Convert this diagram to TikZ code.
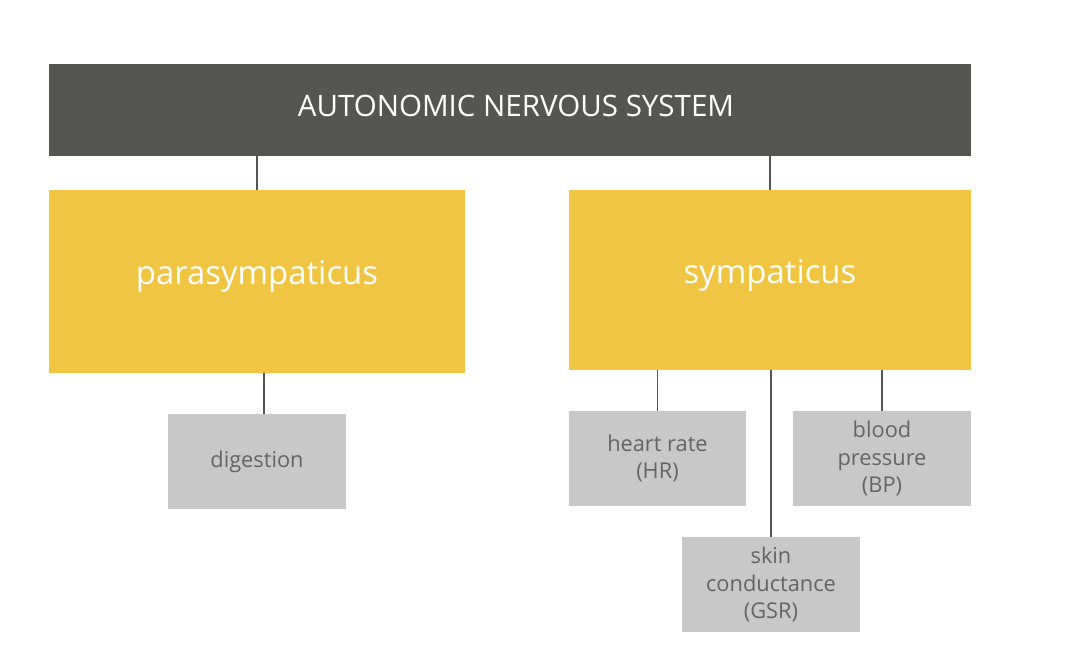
\documentclass[tikz,border=0pt]{standalone}
\usepackage{fontspec}
\setmainfont{Open Sans}
\usepackage{xcolor}
\usepackage{tikz}

\begin{document}
\begin{tikzpicture}[x={(0.02cm,0cm)},y={(0cm,-0.02cm)},every node/.style={outer sep=0pt, inner sep=0pt, align=center},
  head/.style={fill={rgb,255:red,85;green,85;blue,83}, minimum width=18.44cm, minimum height=1.84cm},
  headtext/.style={text=white, font=\fontsize{16.8}{20}\selectfont, xshift=0.12cm, yshift=0.09cm},
  branch/.style={fill={rgb,255:red,240;green,197;blue,66}},
  branchtext/.style={text=white, font=\fontsize{18.7}{22}\selectfont, yshift=0.1cm},
  leaf/.style={fill={rgb,255:red,200;green,200;blue,200}, text={rgb,255:red,100;green,100;blue,100}, minimum width=3.56cm, minimum height=1.9cm, font=\fontsize{12.4}{15.5}\selectfont},
  link/.style={draw={rgb,255:red,85;green,85;blue,83}, line width=1.1pt}]
\useasboundingbox (0,0) rectangle (1069,672);
\node[head, label={[headtext]center:AUTONOMIC NERVOUS SYSTEM}] (ans) at (510,110) {};
\node[branch, minimum width=8.32cm, minimum height=3.66cm, label={[branchtext]center:parasympaticus}] (para) at (257,281.5) {};
\node[branch, minimum width=8.04cm, minimum height=3.6cm, label={[branchtext]center:sympaticus}] (sym) at (770,280) {};
\node[leaf] (dig) at (257,461.5) {digestion};
\node[leaf] (hr) at (657.5,458.5) {heart rate\\(HR)};
\node[leaf] (bp) at (882,458.5) {blood\\pressure\\(BP)};
\node[leaf] (gsr) at (771,584.5) {skin\\conductance\\(GSR)};
\draw[link] (para.north) -- (para.north |- ans.south);
\draw[link] (sym.north) -- (sym.north |- ans.south);
\draw[link] ([xshift=0.14cm]dig.north) -- ([xshift=0.14cm]dig.north |- para.south);
\draw[link] (hr.north) -- (hr.north |- sym.south);
\draw[link] (bp.north) -- (bp.north |- sym.south);
\draw[link] (gsr.north) -- (gsr.north |- sym.south);
\end{tikzpicture}
\end{document}
